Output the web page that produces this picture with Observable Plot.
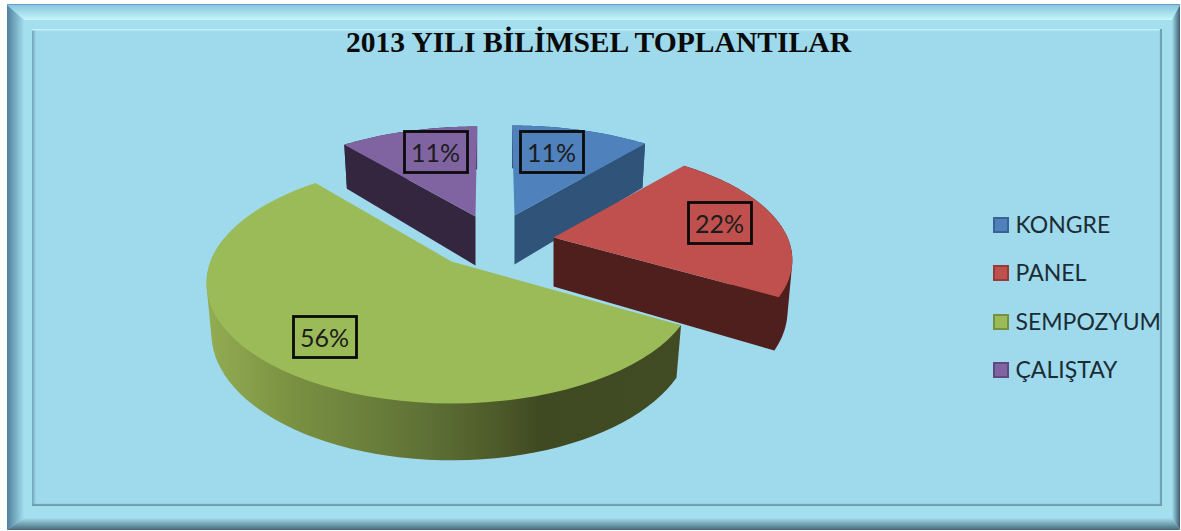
<!DOCTYPE html>
<html lang="tr">
<head>
<meta charset="utf-8">
<script src="https://cdn.jsdelivr.net/npm/d3@7"></script>
<script src="https://cdn.jsdelivr.net/npm/@observablehq/plot@0.6"></script>
<style>
  html, body { margin: 0; padding: 0; background: #fff; }
  #page { position: relative; width: 1181px; height: 531px; overflow: hidden; }
  .band, .flat, #panel { position: absolute; }
  .flat { left: 7px; top: 5px; width: 1173px; height: 525px; background: #a4dfee; }
  #topline { position: absolute; left: 7px; top: 4px; width: 1173px; height: 1px; background: #6a9cc6; }
  .band { left: 0; top: 0; width: 1181px; height: 531px; }
  #bTop { background: linear-gradient(to bottom, #86c6dc 5px, #c6f6fb 20px); clip-path: polygon(7px 5px, 1180px 5px, 1172px 20px, 24px 20px); }
  #bLeft { background: linear-gradient(to right, #4f7f9c 7px, #a2dded 24px); clip-path: polygon(7px 5px, 24px 20px, 24px 518px, 7px 530px); }
  #bRight { background: linear-gradient(to right, #a2dded 1172px, #3c5e6e 1180px); clip-path: polygon(1180px 5px, 1172px 20px, 1172px 518px, 1180px 530px); }
  #bBottom { background: linear-gradient(to bottom, #a2dded 518px, #46697a 530px); clip-path: polygon(7px 530px, 24px 518px, 1172px 518px, 1180px 530px); }
  #panel { left: 32px; top: 29px; width: 1130px; height: 477px; background:
      linear-gradient(to bottom, #c4f2f8 0, #c4f2f8 1px, transparent 2px),
      linear-gradient(to right, #6fa3b6 0, #9ed9ec 4px),
      #9ed9ec; background-size: 100% 100%; box-shadow: inset -2px -2px 1px #6f9dad; }
  #chart { position: absolute; left: 0; top: 0; }
  #chart svg { display: block; background: transparent; }
</style>
</head>
<body>
<div id="page">
  <div class="flat"></div>
  <div id="topline"></div>
  <div class="band" id="bTop"></div>
  <div class="band" id="bLeft"></div>
  <div class="band" id="bRight"></div>
  <div class="band" id="bBottom"></div>
  <div id="panel"></div>
  <div id="chart"></div>
</div>
<script>
// Data
const title = "2013 YILI BİLİMSEL TOPLANTILAR";
const categories = ["KONGRE", "PANEL", "SEMPOZYUM", "ÇALIŞTAY"];
const shares = [11.1, 22.2, 55.6, 11.1];

// Styles
const topColors = ["#4f81bd", "#c0504d", "#9bbb59", "#8064a2"];
const wallColors = ["#2f5379", "#4f1f1d", "url(#semWall)", "#352640"];
const swatchEdges = ["#3a6391", "#943c39", "#76903f", "#5f4a7d"];

// Layout: explosion apex, radii of each slice, perspective
const apex = [[514, 215], [553, 237], [451, 261], [475, 216]];
const radiusX = [238, 234, 241, 238];
const radiusY = [108, 108, 116.4, 108];
const persp = [0.2, 0.2, 0.18, 0.2];
const lean = [-3, 0, 0, 2];
const depth = 49, bottomShrink = 0.98;
const labelPos = [[552, 152], [720, 223], [325, 337], [436, 152]];
const legendX = 993, legendY = [225, 273, 322, 370];

function pt(i, deg, low) {
  const t = deg * Math.PI / 180, X = Math.sin(t), Y = Math.cos(t), p = 1 / (1 + persp[i] * Y);
  const s = low ? bottomShrink : 1;
  return {
    x: apex[i][0] + (radiusX[i] * X + lean[i] * Y) * p * s,
    y: apex[i][1] - radiusY[i] * Y * p * s + (low ? depth * p : 0)
  };
}
function center(i, low) {
  return { x: apex[i][0], y: apex[i][1] + (low ? depth : 0) };
}
function arcPts(i, a, b, low) {
  return d3.range(0, 61).map(k => pt(i, a + (b - a) * k / 60, low));
}

// Angles from the shares
let acc = 0;
const slices = categories.map((category, i) => {
  const a0 = acc * 3.6; acc += shares[i];
  return { i, category, a0, a1: acc * 3.6 };
});

function topFace(s) {
  return [center(s.i, false), ...arcPts(s.i, s.a0, s.a1, false), center(s.i, false)]
    .map(d => ({ ...d, category: s.category }));
}
function radialFace(s, a) {
  return [center(s.i, false), pt(s.i, a, false), pt(s.i, a, true), center(s.i, true), center(s.i, false)];
}
// Outer wall silhouette: the hull of the upper and lower rim
function outerWall(s, a, b) {
  const rim = [...arcPts(s.i, a, b, false), ...arcPts(s.i, a, b, true)];
  return d3.polygonHull(rim.map(d => [d.x, d.y])).map(([x, y]) => ({ x, y }));
}
const area = (pts, fill) => Plot.line(pts, { x: "x", y: "y", fill, stroke: "none", curve: "linear-closed" });

function drawSlice(i, walls) {
  const s = slices[i];
  return [
    ...walls(s).map(w => area(w, wallColors[i])),
    Plot.line(topFace(s), { x: "x", y: "y", fill: "category", stroke: "none", curve: "linear-closed" })
  ];
}

const defsMark = () => {
  const svgNS = "http://www.w3.org/2000/svg";
  const g = document.createElementNS(svgNS, "g");
  const defs = document.createElementNS(svgNS, "defs");
  const lg = document.createElementNS(svgNS, "linearGradient");
  lg.setAttribute("id", "semWall");
  [[0, "#93ad52"], [0.18, "#7a9142"], [0.456, "#5f7236"], [0.63, "#4b5728"], [0.70, "#3f4a22"], [1, "#414c24"]]
    .forEach(([o, c]) => {
      const st = document.createElementNS(svgNS, "stop");
      st.setAttribute("offset", o); st.setAttribute("stop-color", c); lg.appendChild(st);
    });
  defs.appendChild(lg); g.appendChild(defs);
  return g;
};

const labelRows = slices.map(s => ({ x: labelPos[s.i][0], y: labelPos[s.i][1], text: Math.round(shares[s.i]) + "%" }));
const legendRows = slices.map(s => ({ x: legendX, y: legendY[s.i], category: s.category }));

const plot = Plot.plot({
  width: 1181, height: 531,
  margin: 0,
  x: { domain: [0, 1181], range: [0, 1181], axis: null },
  y: { domain: [0, 531], range: [0, 531], axis: null },
  color: { domain: categories, range: topColors },
  style: { background: "transparent" },
  marks: [
    defsMark,
    ...drawSlice(0, s => [outerWall(s, s.a0, s.a1), radialFace(s, s.a1)]),
    ...drawSlice(3, s => [outerWall(s, s.a0, s.a1), radialFace(s, s.a0)]),
    ...drawSlice(2, s => [outerWall(s, s.a0, 282)]),
    ...drawSlice(1, s => [outerWall(s, s.a0, s.a1), radialFace(s, s.a1)]),
    // Data labels in their boxes
    Plot.rect(labelRows, {
      x1: d => d.x - 31.5, x2: d => d.x + 31.5, y1: d => d.y - 20.5, y2: d => d.y + 20.5,
      fill: "none", stroke: "#0a0a0a", strokeWidth: 2.8
    }),
    Plot.text(labelRows, {
      x: d => d.x - 1, y: "y", text: "text", fontFamily: "Lato", fontSize: 25, fill: "#1c1c1c", dy: 1
    }),
    // Legend
    Plot.rect(legendRows, {
      x1: d => d.x, x2: d => d.x + 16, y1: d => d.y - 8, y2: d => d.y + 8,
      fill: "category"
    }),
    Plot.rect(legendRows, {
      x1: d => d.x + 1, x2: d => d.x + 15, y1: d => d.y - 7, y2: d => d.y + 7,
      fill: "none", stroke: (d, i) => swatchEdges[i], strokeWidth: 2
    }),
    Plot.text(legendRows, {
      x: d => d.x + 22, y: "y", text: "category", textAnchor: "start",
      fontFamily: "Lato", fontSize: 23, fill: "#1c2c34"
    }),
    // Title
    Plot.text([title], {
      x: () => 598, y: () => 42.5, text: d => d, fontFamily: "Liberation Serif",
      fontWeight: "bold", fontSize: 29.6, fill: "#0a0a0a"
    })
  ]
});
document.getElementById("chart").appendChild(plot);
</script>
</body>
</html>
